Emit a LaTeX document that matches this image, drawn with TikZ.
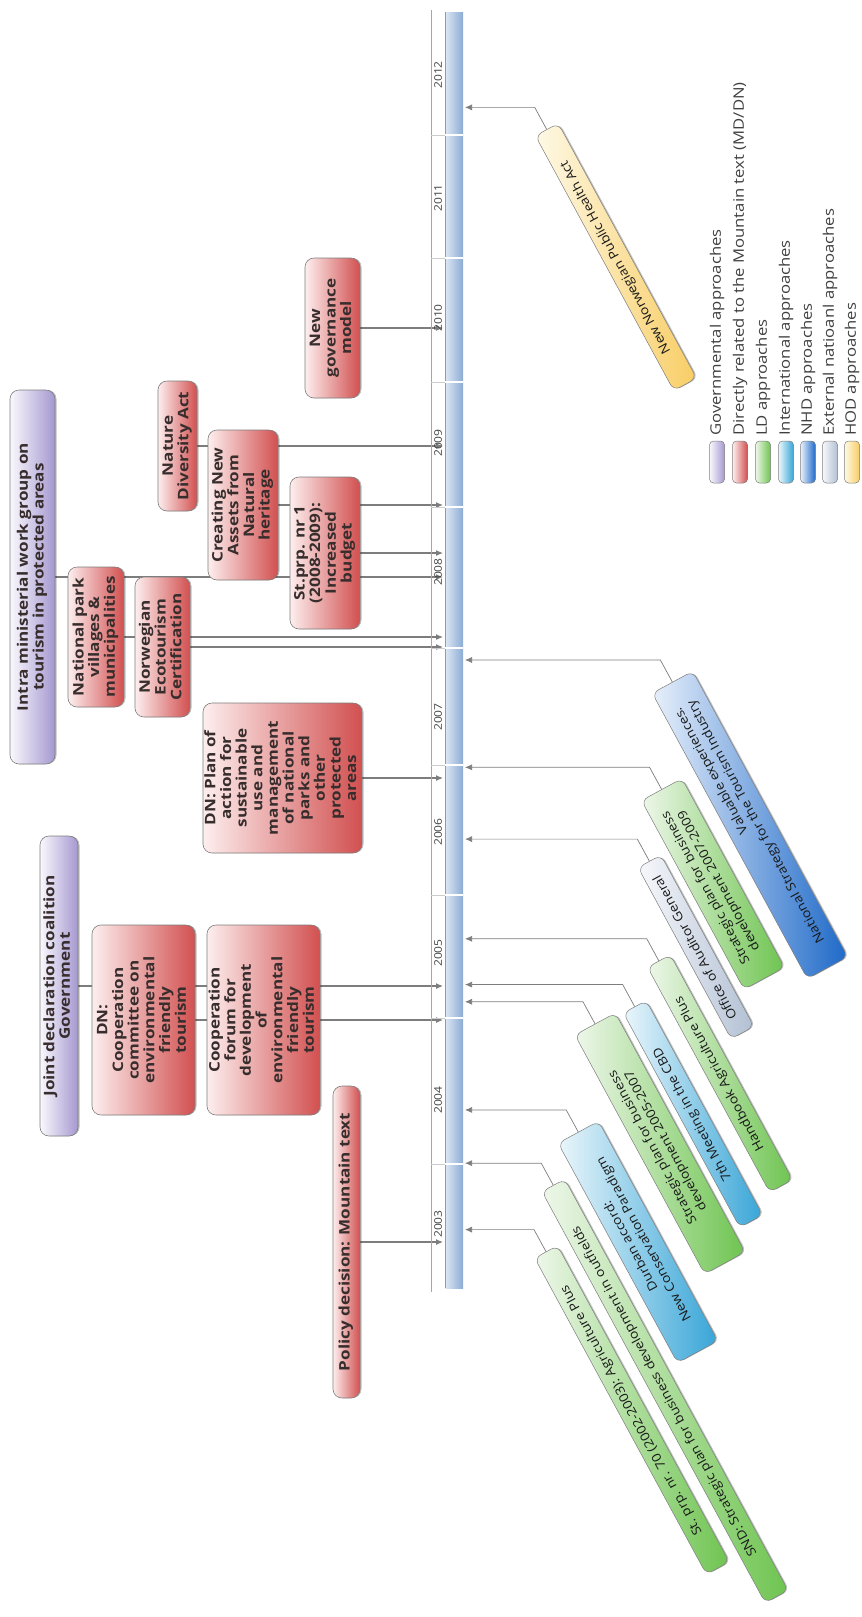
\documentclass[tikz,border=0pt]{standalone}
\usepackage{fontspec}
\setmainfont{Open Sans}
\usepackage{graphicx}
\usetikzlibrary{arrows.meta,backgrounds,shadows}
\definecolor{redC}{RGB}{210,80,80}
\definecolor{redL}{RGB}{253,238,238}
\definecolor{purC}{RGB}{165,152,208}
\definecolor{purL}{RGB}{250,248,253}
\definecolor{grnC}{RGB}{110,196,80}
\definecolor{grnL}{RGB}{238,247,234}
\definecolor{cyaC}{RGB}{55,165,215}
\definecolor{cyaL}{RGB}{235,246,251}
\definecolor{bluC}{RGB}{30,105,200}
\definecolor{bluL}{RGB}{232,240,251}
\definecolor{gryC}{RGB}{178,192,212}
\definecolor{gryL}{RGB}{247,248,251}
\definecolor{yelC}{RGB}{248,205,100}
\definecolor{yelL}{RGB}{254,249,230}
\definecolor{edgeC}{RGB}{125,125,125}
\definecolor{connC}{RGB}{125,125,125}
\definecolor{txtC}{RGB}{55,45,45}
\definecolor{barL}{RGB}{222,232,244}
\definecolor{barR}{RGB}{140,172,212}
\newcommand{\bfnt}{\fontsize{14.5}{15.5}\selectfont\bfseries}
\newcommand{\dfnt}{\fontsize{12.5}{15}\selectfont}
\newcommand{\lfnt}{\fontsize{14.5}{16}\selectfont}
\newcommand{\yfnt}{\fontsize{10.5}{11}\selectfont}
\newcommand{\stt}[1]{\scalebox{1.18}[1]{\begin{tabular}{@{}c@{}}#1\end{tabular}}}
\newcommand{\sdt}[1]{\scalebox{1.12}[1]{\begin{tabular}{@{}c@{}}#1\end{tabular}}}
\newcommand{\sdr}[1]{\scalebox{1.12}[1]{\begin{tabular}{@{}r@{}}#1\end{tabular}}}
\newcommand{\slt}[1]{\scalebox{1.15}[1]{#1}}
\tikzset{
  shd/.style={drop shadow={shadow xshift=1.5pt, shadow yshift=0pt, opacity=0.25, fill=black}},
  vbox/.style={rotate=90, rounded corners=9pt, draw=edgeC, line width=0.6pt,
    inner sep=0pt, align=center, font=\bfnt, text=txtC, shd},
  redbox/.style={vbox, left color=redL, right color=redC},
  purbox/.style={vbox, left color=purL, right color=purC},
  dbox/.style={rotate=118.5, rounded corners=7pt, draw=edgeC, line width=0.5pt,
    inner sep=0pt, font=\dfnt, text=black!90, shd},
  grnbox/.style={dbox, left color=grnL, right color=grnC},
  cyabox/.style={dbox, left color=cyaL, right color=cyaC},
  blubox/.style={dbox, left color=bluL, right color=bluC},
  grybox/.style={dbox, left color=gryL, right color=gryC},
  yelbox/.style={dbox, left color=yelL, right color=yelC},
  conn/.style={draw=connC, line width=1.1pt, -{Latex[length=7pt,width=6pt]}},
  connr/.style={draw=connC, line width=0.7pt, -{Latex[length=7pt,width=6pt]}},
  yearlbl/.style={rotate=90, font=\yfnt, text=black!75, inner sep=0pt},
  lsw/.style={rotate=90, rounded corners=4pt, draw=edgeC, line width=0.5pt,
    minimum width=42pt, minimum height=15pt, inner sep=0pt},
  ltxt/.style={rotate=90, anchor=west, font=\lfnt, text=black!75, inner sep=0pt}
}
\begin{document}
\begin{tikzpicture}[x=1pt,y=-1pt]
\useasboundingbox (0,0) rectangle (862,1617);
% ---------- timeline ----------
\coordinate (barL) at (443,0);
\coordinate (barR) at (465,0);
\draw[black!35, line width=0.6pt] (431,10) -- (431,1292);
\shade[left color=barL, right color=barR] (445,12) rectangle (463,1288);
\draw[black!40, line width=0.5pt] (445,12) -- (445,1288);
\foreach \b in {135,258,382,507,648,765,895,1018,1164}{
  \draw[white, line width=1.3pt] (445,\b) -- (463,\b);
  \draw[black!20, line width=0.6pt] (431,\b) -- (445,\b);
}
\foreach \yy/\lab in {75/2012,198/2011,318/2010,443/2009,572/2008,717/2007,832/2006,953/2005,1100/2004,1224/2003}{
  \node[yearlbl] (y\lab) at (438,\yy) {\slt{\lab}};
}
% ---------- left boxes ----------
\node[purbox, minimum width=374pt, minimum height=45pt] (intra) at (32.5,577)
  {\stt{Intra ministerial work group on\\tourism in protected areas}};
\node[purbox, minimum width=300pt, minimum height=38pt] (joint) at (59,986)
  {\stt{Joint declaration coalition\\Government}};
\node[redbox, minimum width=140pt, minimum height=56pt] (npv) at (96,637)
  {\stt{National park\\villages \&\\municipalities}};
\node[redbox, minimum width=140pt, minimum height=55pt] (nec) at (162.5,647)
  {\stt{Norwegian\\Ecotourism\\Certification}};
\node[redbox, minimum width=130pt, minimum height=39pt] (nda) at (177.5,446)
  {\stt{Nature\\Diversity Act}};
\node[redbox, minimum width=150pt, minimum height=70pt] (cna) at (243,505)
  {\stt{Creating New\\Assets from\\Natural\\heritage}};
\node[redbox, minimum width=152pt, minimum height=70pt] (stp) at (325,553)
  {\stt{St.prp. nr 1\\(2008-2009):\\Increased\\budget}};
\node[redbox, minimum width=140pt, minimum height=55pt] (ngm) at (332.5,328)
  {\stt{New\\governance\\model}};
\node[redbox, minimum width=150pt, minimum height=159pt] (dnp) at (282.5,778)
  {\stt{DN: Plan of\\action for\\sustainable\\use and\\management\\of national\\parks and\\other\\protected\\areas}};
\node[redbox, minimum width=190pt, minimum height=103pt] (dnc) at (143.5,1020)
  {\stt{DN:\\Cooperation\\committee on\\environmental\\friendly\\tourism}};
\node[redbox, minimum width=190pt, minimum height=113pt] (cff) at (263.5,1020)
  {\stt{Cooperation\\forum for\\development\\of\\environmental\\friendly\\tourism}};
\node[redbox, minimum width=312pt, minimum height=27pt] (pol) at (346.5,1242)
  {\stt{Policy decision: Mountain text}};
% ---------- diagonal boxes ----------
\node[yelbox, minimum width=290pt, minimum height=26pt] (hod) at (616,257)
  {\sdt{New Norwegian Public Health Act}};
\node[blubox, minimum width=325pt, minimum height=46pt] (nhd) at (750,825)
  {\sdr{Valuable experiences.\\National Strategy for the Tourism Industry}};
\node[grnbox, minimum width=215pt, minimum height=46pt] (sp07) at (713,884)
  {\sdt{Strategic plan for business\\development 2007-2009}};
\node[grybox, minimum width=195pt, minimum height=26pt] (oag) at (696,947)
  {\sdt{Office of Auditor General}};
\node[grnbox, minimum width=256pt, minimum height=26pt] (hbk) at (720,1073.5)
  {\sdt{Handbook Agriculture Plus}};
\node[cyabox, minimum width=244pt, minimum height=26pt] (cbd) at (693,1114)
  {\sdt{7th Meeting in the CBD}};
\node[grnbox, minimum width=272pt, minimum height=46pt] (sp05) at (660,1143.5)
  {\sdt{Strategic plan for business\\development 2005-2007}};
\node[cyabox, minimum width=250pt, minimum height=46pt] (dur) at (638,1242)
  {\sdt{Durban accord:\\New Conservation Paradigm}};
\node[grnbox, minimum width=468pt, minimum height=26pt] (snd) at (665,1391)
  {\sdt{SND: Strategic plan for business development in outfields}};
\node[grnbox, minimum width=360pt, minimum height=26pt] (sp70) at (632,1410)
  {\sdt{St. prp. nr. 70 (2002-2003): Agriculture Plus}};
% ---------- legend ----------
\foreach \n/\xx/\c/\t in {1/717/pur/{Governmental approaches},
  2/740/red/{Directly related to the Mountain text (MD/DN)},
  3/763/grn/{LD approaches},
  4/786/cya/{International approaches},
  5/808/blu/{NHD approaches},
  6/830/gry/{External natioanl approaches},
  7/852/yel/{HOD approaches}}{
  \node[lsw, left color=\c L, right color=\c C] (sw\n) at (\xx,462) {};
  \node[ltxt] (lt\n) at (\xx,436) {\slt{\t}};
}
% ---------- connectors (behind boxes) ----------
\begin{pgfonlayer}{background}
\foreach \b in {ngm,nda,cna,stp,intra,npv,nec,dnp,joint,dnc,pol}{
  \draw[conn] (\b.center) -- (\b.center -| barL);
}
\foreach \b in {hod,nhd,sp07,oag,hbk,cbd,sp05,dur,snd,sp70}{
  \path (\b.east) ++(-12,-22) coordinate (k\b);
  \draw[connr] (\b.east) -- (k\b) -- (k\b -| barR);
}
\end{pgfonlayer}
\end{tikzpicture}
\end{document}
